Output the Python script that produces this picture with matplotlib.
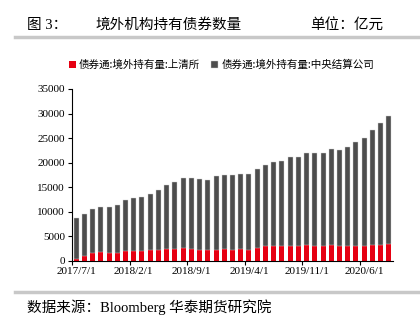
import matplotlib
matplotlib.use('Agg')
import matplotlib.pyplot as plt
import numpy as np

plt.rcParams['font.family'] = ['Liberation Serif', 'Noto Sans CJK SC']

# monthly, 2017/7 .. 2020/9
months = ['2017/7/1', '2017/8/1', '2017/9/1', '2017/10/1', '2017/11/1', '2017/12/1',
          '2018/1/1', '2018/2/1', '2018/3/1', '2018/4/1', '2018/5/1', '2018/6/1',
          '2018/7/1', '2018/8/1', '2018/9/1', '2018/10/1', '2018/11/1', '2018/12/1',
          '2019/1/1', '2019/2/1', '2019/3/1', '2019/4/1', '2019/5/1', '2019/6/1',
          '2019/7/1', '2019/8/1', '2019/9/1', '2019/10/1', '2019/11/1', '2019/12/1',
          '2020/1/1', '2020/2/1', '2020/3/1', '2020/4/1', '2020/5/1', '2020/6/1',
          '2020/7/1', '2020/8/1', '2020/9/1']

# 上清所 (red)
shch = [340, 1085, 1580, 1780, 1600, 1720, 2000, 2000, 2120, 2190, 2260, 2400,
        2480, 2700, 2350, 2280, 2190, 2190, 2390, 2330, 2390, 2260, 2600, 3080,
        3140, 3020, 3140, 3060, 3200, 3080, 3080, 3200, 3080, 3080, 3080, 3080,
        3220, 3350, 3420]

total = [8820, 9630, 10580, 11060, 11060, 11460, 12480, 12750, 13020, 13700,
         14380, 15400, 16140, 16820, 16890, 16750, 16420, 17300, 17570, 17500,
         17640, 17770, 18790, 19540, 20150, 20280, 21160, 21230, 21980, 21910,
         22050, 22790, 22590, 23130, 24280, 25030, 26730, 28010, 29440]

# 中央结算公司 (grey)
ccdc = [t - s for t, s in zip(total, shch)]

tick_every = 7

fig = plt.figure(figsize=(4.2, 3.21), dpi=100)
ax = fig.add_axes([72 / 420, 1 - 261 / 321, (393 - 72) / 420, (261 - 89) / 321])

x = np.arange(len(months))
ax.bar(x, shch, width=0.6, color='#e60012', linewidth=0,
       label='债券通:境外持有量:上清所')
ax.bar(x, ccdc, width=0.6, bottom=shch, color='#4d4d4d',
       edgecolor='#d0d0d0', linewidth=0.3,
       label='债券通:境外持有量:中央结算公司')

ax.set_xlim(-0.5, len(months) - 0.5)
ax.set_ylim(0, 35000)
ax.set_yticks(np.arange(0, 35001, 5000))
ax.tick_params(axis='y', labelsize=8, length=3, width=0.8, pad=2)

# major ticks on category boundaries, labels under the bars
ax.set_xticks(np.arange(0, len(months), tick_every) - 0.5)
ax.set_xticklabels([])
ax.tick_params(axis='x', which='major', length=3, width=0.8)
ax.set_xticks(np.arange(0, len(months), tick_every), minor=True)
ax.set_xticklabels(months[::tick_every], minor=True)
ax.tick_params(axis='x', which='minor', length=0, labelsize=8, pad=4)

for side in ['top', 'right']:
    ax.spines[side].set_visible(False)
ax.spines['left'].set_linewidth(0.8)
ax.spines['bottom'].set_linewidth(0.8)

fig.legend(loc='center', bbox_to_anchor=(0.527, 1 - 65 / 321), ncol=2,
           frameon=False, handlelength=0.7, handleheight=0.7,
           handletextpad=0.3, columnspacing=1.0,
           prop={'family': ['Noto Sans CJK SC'], 'size': 7.6})

# header and footer
fig.text(27 / 420, 1 - 25 / 321, '图 3：', fontsize=10.5, va='center')
fig.text(95 / 420, 1 - 25 / 321, '境外机构持有债券数量', fontsize=10.5, va='center',
         family=['Noto Sans CJK SC'])
fig.text(310 / 420, 1 - 25 / 321, '单位：亿元', fontsize=10.5, va='center',
         family=['Noto Sans CJK SC'])
fig.add_artist(plt.Line2D([15 / 420, 1], [1 - 37 / 321] * 2, color='#c8c8c8', lw=2.5))
fig.add_artist(plt.Line2D([15 / 420, 1], [1 - 292 / 321] * 2, color='#c8c8c8', lw=2.5))
fig.text(27 / 420, 1 - 307 / 321, '数据来源：Bloomberg 华泰期货研究院', fontsize=10.5,
         va='center')

fig.savefig('out.png', dpi=100)
